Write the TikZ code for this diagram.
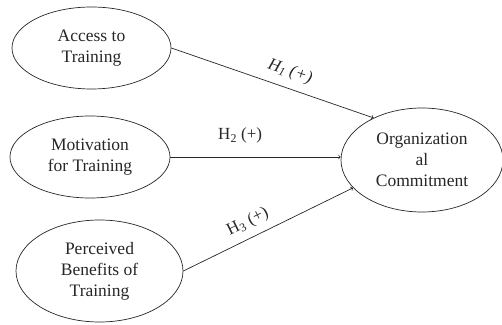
\documentclass[tikz,border=0pt]{standalone}
\usepackage{fontspec}
\setmainfont{Liberation Serif}
\usetikzlibrary{arrows}
\usetikzlibrary{shapes.geometric}
\tikzset{v/.style={draw, ellipse, inner sep=0pt, align=center, font=\fontsize{17.5}{21}\selectfont}}
\tikzset{h/.style={font=\fontsize{17}{17}\selectfont, sloped}}

\begin{document}
\begin{tikzpicture}[x=1pt, y=1pt, >=to, line width=0.7pt, black!85]
          \useasboundingbox (0,0) rectangle (502,324);
          \node[v, minimum width=159pt, minimum height=82pt] (acc) at (91.5,276) {Access to\\Training};
          \node[v, minimum width=160pt, minimum height=82pt] (mot) at (90,167) {Motivation\\for Training};
          \node[v, minimum width=167pt, minimum height=102pt] (per) at (99.5,53) {Perceived\\Benefits of\\Training};
          \node[v, minimum width=162pt, minimum height=104pt] (org) at (422,164) {Organization\\al\\Commitment};
          % hypotheses
          \draw[->] (acc.east) -- node [h, above=5pt, pos=0.56] {\textit{H\textsubscript{1} (+)}} (org.139);
          \draw[->] (mot.east) -- node [h, above=10pt, pos=0.41] {H\textsubscript{2} (+)} (mot.east -| org.west);
          \draw[->] (per.east) -- node [h, above=4pt, pos=0.42] {H\textsubscript{3} (+)} (org.202);
        \end{tikzpicture}
\end{document}
